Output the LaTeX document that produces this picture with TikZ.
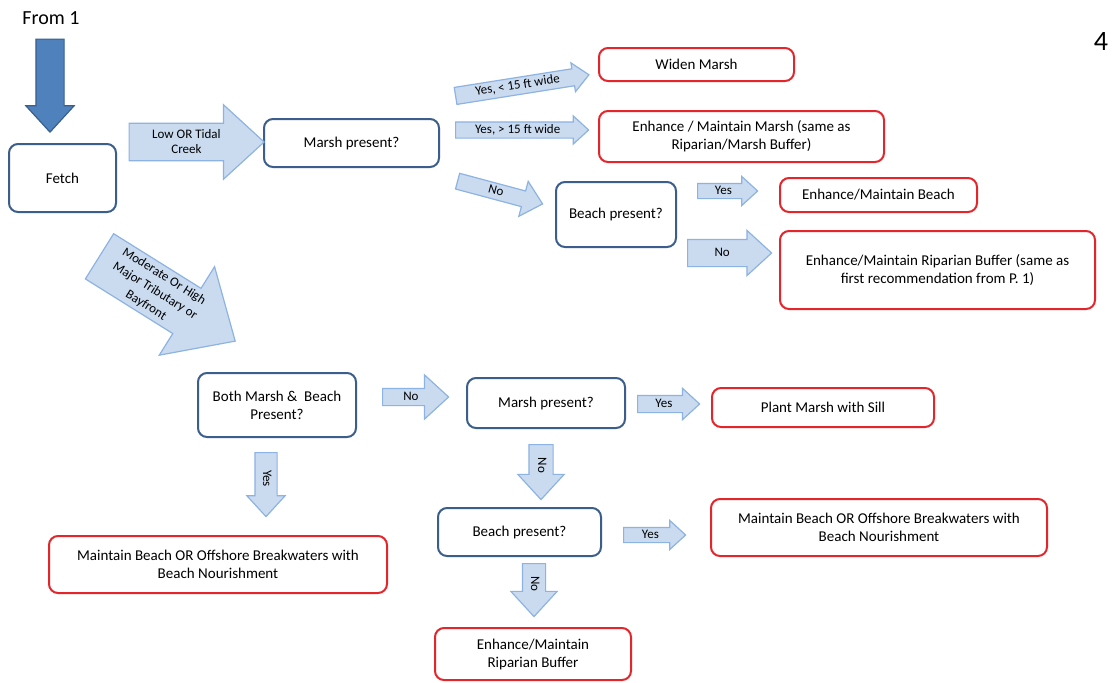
\documentclass[tikz,border=0pt]{standalone}
\usepackage{fontspec}
\setmainfont{Carlito}
\usetikzlibrary{shapes.arrows,positioning}

\definecolor{askline}{HTML}{3B5E8C}
\definecolor{doline}{HTML}{E3262C}
\definecolor{arrowline}{HTML}{8DB3E2}
\definecolor{arrowfill}{HTML}{CADBF0}
\definecolor{bigfill}{HTML}{4F81BD}
\definecolor{bigline}{HTML}{3A5F8C}

\tikzset{
  flow box/.style = {
    shape = rectangle,
    align = center,
    draw  = #1,
    fill  = white,
    line width = 2pt,
    rounded corners = 9pt,
    font = \fontsize{15}{18}\selectfont},
  flow arrow/.style = {
    single arrow,
    draw = arrowline,
    fill = arrowfill,
    line width = 1.2pt,
    single arrow tip angle = 85,
    inner xsep = 0pt,
    align = center,
    font = \fontsize{13}{15}\selectfont},
  one line/.style = {text height = 8pt, text depth = 2pt}
}

\begin{document}
\begin{tikzpicture}[x = 1pt, y = -1pt]
  \useasboundingbox (0,0) rectangle (1112,683);
  \fill[white] (0,0) rectangle (1112,683);

  \node[font = \fontsize{20}{24}\selectfont] (from) at (51,18) {From 1};
  \node[font = \fontsize{28}{32}\selectfont] (pagenum) at (1101,42) {4};

  % questions
  \node[flow box = askline, minimum width = 107pt, minimum height = 68pt] (fetch) at (62.5,178) {Fetch};
  \node[flow box = askline, minimum width = 175pt, minimum height = 48pt] (marsh1) at (351.5,143) {Marsh present?};
  \node[flow box = askline, minimum width = 120pt, minimum height = 65pt] (beach1) at (616,214.5) {Beach present?};
  \node[flow box = askline, minimum width = 158pt, minimum height = 64pt] (both) at (277,405) {Both Marsh \&\ \ Beach\\Present?};
  \node[flow box = askline, minimum width = 158pt, minimum height = 50pt] (marsh2) at (546,403) {Marsh present?};
  \node[flow box = askline, minimum width = 163pt, minimum height = 48pt] (beach2) at (519.5,532) {Beach present?};

  % recommendations
  \node[flow box = doline, minimum width = 195pt, minimum height = 33pt] (widen) at (696.5,64.5) {Widen Marsh};
  \node[flow box = doline, minimum width = 285pt, minimum height = 51pt] (keepmarsh) at (741.5,136.5) {Enhance / Maintain Marsh (same as\\Riparian/Marsh Buffer)};
  \node[flow box = doline, minimum width = 197pt, minimum height = 34pt] (keepbeach) at (878.5,195) {Enhance/Maintain Beach};
  \node[flow box = doline, minimum width = 315pt, minimum height = 78pt] (riparian1) at (937.5,270) {Enhance/Maintain Riparian Buffer (same as\\first recommendation from P. 1)};
  \node[flow box = doline, minimum width = 222pt, minimum height = 39pt] (sill) at (823,407.5) {Plant Marsh with Sill};
  \node[flow box = doline, minimum width = 338pt, minimum height = 57pt] (nourish1) at (218,564.5) {Maintain Beach OR Offshore Breakwaters with\\Beach Nourishment};
  \node[flow box = doline, minimum width = 336pt, minimum height = 57pt] (nourish2) at (879,527.5) {Maintain Beach OR Offshore Breakwaters with\\Beach Nourishment};
  \node[flow box = doline, minimum width = 196pt, minimum height = 52pt] (riparian2) at (533,654) {Enhance/Maintain\\Riparian Buffer};

  % block arrows
  \node[flow arrow, fill = bigfill, draw = bigline, rotate = -90, anchor = tip, minimum height = 93pt,
        inner ysep = 13.5pt, text height = 0pt, text depth = 0pt, single arrow head extend = 10pt] (fromarrow) at (50,133) {};
  \node[flow arrow, anchor = tip, minimum height = 135pt, inner ysep = 6pt,
        single arrow head extend = 18.5pt] (lowarrow) at (265,142) {Low OR Tidal\\Creek};
  \node[flow arrow, one line, rotate = 9, anchor = tail, minimum height = 135pt, inner ysep = 3pt,
        single arrow head extend = 6pt] (narrowarrow) at (455,96) {Yes, < 15 ft wide};
  \node[flow arrow, one line, anchor = tail, minimum height = 133pt, inner ysep = 2.5pt,
        single arrow head extend = 6pt] (widearrow) at (455,130) {Yes, > 15 ft wide};
  \node[flow arrow, one line, rotate = -15, anchor = tail, minimum height = 88pt, inner ysep = 2.5pt,
        single arrow head extend = 10pt] (nomarsharrow) at (457,181) {No};
  \node[flow arrow, one line, anchor = tail, minimum height = 60pt, inner ysep = 2pt,
        single arrow head extend = 7pt] (yesbeach1) at (697,191) {Yes};
  \node[flow arrow, one line, anchor = tail, minimum height = 84pt, inner ysep = 8pt,
        single arrow head extend = 9pt] (nobeach1) at (687,253) {No};
  \node[flow arrow, rotate = -32, anchor = tail, minimum height = 160pt, inner ysep = 3.5pt,
        single arrow head extend = 25.5pt, font = \fontsize{13}{17}\selectfont] (modarrow) at (99,256) {Moderate Or High\\Major Tributary or\\Bayfront};
  \node[flow arrow, one line, anchor = tail, minimum height = 66pt, inner ysep = 3pt,
        single arrow head extend = 13.5pt] (noboth) at (382,397) {No};
  \node[flow arrow, one line, anchor = tail, minimum height = 62pt, inner ysep = 3pt,
        single arrow head extend = 7pt] (yesmarsh2) at (637,404) {Yes};
  \node[flow arrow, one line, rotate = -90, anchor = tail, minimum height = 55pt, inner ysep = 6.5pt,
        single arrow head extend = 11pt] (nomarsh2) at (541,444) {No};
  \node[flow arrow, one line, rotate = -90, anchor = tail, minimum height = 64pt, inner ysep = 5.5pt,
        single arrow head extend = 8pt] (yesboth) at (266,452) {Yes};
  \node[flow arrow, one line, anchor = tail, minimum height = 62pt, inner ysep = 2pt,
        single arrow head extend = 7pt] (yesbeach2) at (623,535) {Yes};
  \node[flow arrow, one line, rotate = -90, anchor = tail, minimum height = 53pt, inner ysep = 6pt,
        single arrow head extend = 11.5pt] (nobeach2) at (534,563) {No};
\end{tikzpicture}
\end{document}
